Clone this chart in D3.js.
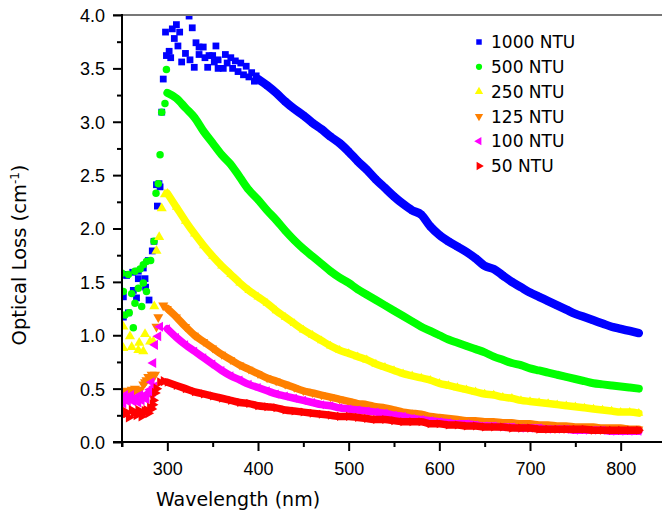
<!DOCTYPE html>
<html>
<head>
<meta charset="utf-8">
<script src="https://cdn.jsdelivr.net/npm/d3@7"></script>
<style>
  body { margin: 0; background: #fff; }
  svg { font-family: Tahoma, "DejaVu Sans", sans-serif; }
</style>
</head>
<body>
<div id="chart"></div>
<script>
const svgWidth = 662;
const svgHeight = 520;

// wavelength grid of the smooth part of the curves (nm)
const wl = [300,310,320,330,340,350,360,370,380,390,400,410,420,430,440,450,460,470,480,490,
            500,510,520,530,540,550,560,570,580,590,600,610,620,630,640,650,660,670,680,690,
            700,710,720,730,740,750,760,770,780,790,800,810,820];
const wlBlue = wl.filter(d => d >= 400);

const band1000 = [3.40,3.34,3.27,3.19,3.12,3.06,2.99,2.93,2.86,2.80,
                  2.72,2.63,2.55,2.46,2.38,2.30,2.23,2.17,2.13,2.02,
                  1.94,1.88,1.83,1.78,1.72,1.65,1.62,1.56,1.50,1.45,
                  1.40,1.36,1.32,1.28,1.24,1.20,1.17,1.14,1.11,1.08,
                  1.06,1.04,1.02];
const band500 = [3.27,3.22,3.13,3.04,2.91,2.80,2.69,2.60,2.48,2.36,
                 2.27,2.17,2.08,1.98,1.89,1.81,1.74,1.67,1.60,1.54,
                 1.49,1.43,1.38,1.33,1.28,1.23,1.18,1.13,1.08,1.04,
                 1.00,0.96,0.93,0.90,0.87,0.84,0.80,0.77,0.74,0.72,
                 0.69,0.67,0.65,0.63,0.61,0.59,0.57,0.55,0.54,0.53,
                 0.52,0.51,0.50];
const band250 = [2.33,2.20,2.07,1.95,1.84,1.74,1.65,1.57,1.49,1.42,
                 1.36,1.30,1.23,1.17,1.11,1.05,1.00,0.95,0.90,0.86,
                 0.83,0.80,0.77,0.73,0.70,0.67,0.64,0.62,0.60,0.58,
                 0.55,0.53,0.51,0.49,0.47,0.45,0.44,0.42,0.41,0.39,
                 0.38,0.37,0.36,0.35,0.34,0.33,0.32,0.31,0.30,0.29,
                 0.28,0.28,0.27];
const band125 = [1.25,1.17,1.08,1.00,0.94,0.88,0.82,0.77,0.72,0.68,
                 0.64,0.60,0.57,0.54,0.51,0.48,0.46,0.44,0.42,0.40,
                 0.38,0.36,0.35,0.33,0.32,0.30,0.28,0.27,0.26,0.24,
                 0.23,0.22,0.21,0.20,0.20,0.19,0.19,0.18,0.18,0.17,
                 0.17,0.16,0.16,0.15,0.15,0.14,0.14,0.14,0.13,0.13,
                 0.13,0.12,0.12];
const band100 = [1.06,0.98,0.91,0.85,0.79,0.73,0.67,0.62,0.58,0.54,
                 0.51,0.48,0.45,0.43,0.41,0.39,0.37,0.35,0.34,0.32,
                 0.31,0.30,0.29,0.28,0.27,0.25,0.24,0.22,0.21,0.20,
                 0.19,0.18,0.17,0.17,0.16,0.15,0.15,0.14,0.14,0.13,
                 0.13,0.13,0.12,0.12,0.12,0.11,0.11,0.11,0.11,0.10,
                 0.10,0.10,0.10];
const band50 = [0.56,0.53,0.50,0.47,0.45,0.43,0.41,0.39,0.37,0.36,
                0.34,0.33,0.32,0.30,0.29,0.28,0.27,0.26,0.25,0.24,
                0.24,0.23,0.22,0.21,0.21,0.20,0.19,0.19,0.19,0.17,
                0.17,0.16,0.16,0.15,0.15,0.14,0.14,0.14,0.13,0.13,
                0.13,0.12,0.12,0.12,0.12,0.12,0.12,0.11,0.11,0.11,
                0.11,0.11,0.11];

// scattered points below the absorption edge [nm, loss]
const noisy1000 = [[251.5,1.57],[255,1.56],[261.8,1.59],[268,1.60],[273.5,1.63],[279,1.70],[283.4,1.79],
  [285.3,1.88],[289,2.21],[290.8,2.42],[288,2.41],[292,2.39],[268,1.53],[275.4,1.53],[276,1.45],[266,1.35],
  [279.8,1.33],[251.5,1.36],[257,1.21],[251.5,1.17],[262.5,1.42],[293.8,3.09],[295.5,3.40],[298,3.84],
  [305.5,3.87],[310,3.91],[313.6,3.84],[307.7,3.78],[311.7,3.71],[324,3.99],[327.5,3.88],[331.6,3.74],
  [335,3.70],[339.6,3.70],[353.6,3.71],[302,3.66],[299,3.62],[303.7,3.60],[320,3.64],[315.8,3.56],
  [325,3.58],[329.7,3.51],[335,3.63],[341.5,3.60],[344.5,3.51],[346,3.62],[350,3.62],[351.8,3.56],
  [356,3.58],[356,3.50],[361.7,3.50],[364,3.63],[366,3.55],[370,3.60],[372,3.50],[375,3.57],[378,3.47],
  [381,3.55],[384,3.44],[387,3.52],[390,3.42],[393,3.46],[396,3.38],[398,3.43]];
const noisy500 = [[250,1.58],[257,1.57],[264.3,1.60],[270,1.62],[273.5,1.66],[277,1.69],[281.6,1.70],
  [285.3,1.88],[287.5,2.33],[290,2.42],[292,2.69],[293.8,3.09],[297.4,3.17],[299,3.49],[273.5,1.49],
  [268,1.44],[277,1.41],[260.7,1.39],[251.5,1.41],[264.3,1.30],[271.7,1.27],[258,1.21],[253.3,1.19],
  [262.5,1.07]];
const noisy250 = [[251.5,1.08],[258.8,0.99],[275.4,1.01],[281,0.94],[269,0.93],[260.7,0.89],[251.5,0.88],
  [268,0.86],[273.5,0.85],[284.5,0.94],[285.6,1.27],[288,1.79],[291,1.92],[293.8,2.19],[297.4,2.32]];
const noisy125 = [[251.5,0.47],[253.5,0.45],[255,0.48],[257,0.46],[260.7,0.49],[262.5,0.47],[264.3,0.50],
  [266.5,0.48],[268,0.46],[270,0.49],[273.5,0.54],[275.4,0.56],[277,0.58],[279,0.61],[281,0.60],
  [282.7,0.63],[284.5,0.61],[286.4,0.63],[288,1.08],[290,1.17],[295.5,1.28]];
const noisy100 = [[251.5,0.41],[251.5,0.36],[253.5,0.44],[256.5,0.38],[258.8,0.41],[260,0.44],[262.5,0.38],
  [264,0.41],[266,0.42],[268,0.37],[270,0.44],[271.7,0.39],[273.5,0.43],[275.4,0.41],[277,0.40],[279,0.46],
  [280.9,0.49],[282.7,0.44],[284,0.47],[285.5,0.52],[282.7,0.56],[284.5,0.74],[286.4,0.91],[290,0.99],[292,1.08]];
const noisy50 = [[250,0.25],[252.5,0.29],[255,0.27],[257.5,0.23],[260.7,0.30],[263,0.27],[266,0.25],
  [268,0.30],[269.8,0.28],[271.5,0.24],[273.5,0.27],[275,0.29],[277,0.30],[279,0.27],[280.9,0.32],
  [282.5,0.31],[283.8,0.35],[284.5,0.39],[286.4,0.46],[288,0.50],[292,0.56],[296,0.57]];

const names = ["1000 NTU", "500 NTU", "250 NTU", "125 NTU", "100 NTU", "50 NTU"];
const colors = ["#0000ff", "#00ff00", "#ffff00", "#ff8000", "#ff00ff", "#ff0000"];
const xTicks = [300, 400, 500, 600, 700, 800];
const yTicks = [0, 0.5, 1.0, 1.5, 2.0, 2.5, 3.0, 3.5, 4.0];

const shapes = [
  {type: d3.symbolSquare, size: 46, rot: 0},
  {type: d3.symbolCircle, size: 44, rot: 0},
  {type: d3.symbolTriangle, size: 44, rot: 0},
  {type: d3.symbolTriangle, size: 44, rot: 180},
  {type: d3.symbolTriangle, size: 44, rot: -90},
  {type: d3.symbolTriangle, size: 44, rot: 90}
];

const series = [
  {wl: wlBlue, band: band1000, noisy: noisy1000, width: 8.5},
  {wl: wl, band: band500, noisy: noisy500, width: 8},
  {wl: wl, band: band250, noisy: noisy250, width: 7.5},
  {wl: wl, band: band125, noisy: noisy125, width: 7.5},
  {wl: wl, band: band100, noisy: noisy100, width: 7.5},
  {wl: wl, band: band50, noisy: noisy50, width: 7.5}
];

const x = d3.scaleLinear().domain([250, 850]).range([122, 666]);
const y = d3.scaleLinear().domain([0, 4]).range([442, 15]);

const svg = d3.select("#chart").append("svg")
    .attr("width", svgWidth)
    .attr("height", svgHeight);

svg.append("defs").append("clipPath").attr("id", "plot")
  .append("rect").attr("x", 122).attr("y", 14).attr("width", 560).attr("height", 429);

const plot = svg.append("g").attr("clip-path", "url(#plot)");

const line = d3.line()
    .x(d => x(d[0]))
    .y(d => y(d[1]))
    .curve(d3.curveMonotoneX);

series.forEach((s, i) => {
  const pts = s.wl.map((w, j) => [w, s.band[j]]);
  const g = plot.append("g");
  const sym = d3.symbol().type(shapes[i].type).size(shapes[i].size);
  const small = d3.symbol().type(shapes[i].type).size(shapes[i].size * 0.8);

  g.append("path")
    .datum(pts)
    .attr("fill", "none")
    .attr("stroke", colors[i])
    .attr("stroke-width", s.width)
    .attr("stroke-linecap", "round")
    .attr("d", line);

  // markers riding on the band
  g.selectAll(".b")
    .data(pts)
    .enter()
    .append("path")
    .attr("d", small)
    .attr("fill", colors[i])
    .attr("transform", d => `translate(${x(d[0])},${y(d[1])}) rotate(${shapes[i].rot})`);

  g.selectAll(".m")
    .data(s.noisy)
    .enter()
    .append("path")
    .attr("d", sym)
    .attr("fill", colors[i])
    .attr("transform", d => `translate(${x(d[0])},${y(d[1])}) rotate(${shapes[i].rot})`);
});

// frame: grey top border, black left and bottom axes
svg.append("line")
  .attr("x1", 113).attr("x2", 662).attr("y1", 15).attr("y2", 15)
  .attr("stroke", "#777").attr("stroke-width", 2);

const axisX = svg.append("g")
  .attr("transform", `translate(0, 442)`)
  .call(d3.axisBottom(x).tickValues(d3.range(250, 851, 50)).tickSize(5).tickFormat(""));
axisX.selectAll(".tick line").filter(d => xTicks.includes(d)).attr("y2", 9);
axisX.selectAll(".tick line").attr("stroke-width", 2);
axisX.select(".domain").remove();
svg.append("line")
  .attr("x1", 113).attr("x2", 662).attr("y1", 442).attr("y2", 442)
  .attr("stroke", "#000").attr("stroke-width", 2);

axisX.selectAll(".tick").filter(d => xTicks.includes(d))
  .append("text")
  .attr("y", 33)
  .attr("fill", "#000")
  .attr("font-size", 18)
  .attr("text-anchor", "middle")
  .text(d => d);

const axisY = svg.append("g")
  .attr("transform", `translate(122, 0)`)
  .call(d3.axisLeft(y).tickValues(d3.range(0, 4.01, 0.25)).tickSize(5).tickFormat(""));
axisY.selectAll(".tick line").filter(d => yTicks.some(t => Math.abs(t - d) < 1e-6)).attr("x2", -9);
axisY.selectAll(".tick line").attr("stroke-width", 2);
axisY.select(".domain").remove();
svg.append("line")
  .attr("x1", 122).attr("x2", 122).attr("y1", 14).attr("y2", 447)
  .attr("stroke", "#000").attr("stroke-width", 2);

axisY.selectAll(".tick").filter(d => yTicks.some(t => Math.abs(t - d) < 1e-6))
  .append("text")
  .attr("x", -17)
  .attr("dy", "0.36em")
  .attr("fill", "#000")
  .attr("font-size", 18)
  .attr("text-anchor", "end")
  .text(d => d3.format(".1f")(d));

// axis titles
svg.append("text")
  .attr("x", 238).attr("y", 506)
  .attr("text-anchor", "middle")
  .attr("font-size", 19)
  .text("Wavelength (nm)");

const yTitle = svg.append("text")
  .attr("transform", "translate(26, 255) rotate(-90)")
  .attr("text-anchor", "middle")
  .attr("font-size", 19.5);
yTitle.append("tspan").text("Optical Loss (cm");
yTitle.append("tspan").attr("dy", -7).attr("font-size", 12).text("-1");
yTitle.append("tspan").attr("dy", 7).text(")");

// legend
const legend = svg.append("g");
names.forEach((n, i) => {
  const ly = 42 + i * 24.8;
  const sym = d3.symbol().type(shapes[i].type).size(30);
  legend.append("path")
    .attr("d", sym)
    .attr("fill", colors[i])
    .attr("transform", `translate(479,${ly}) rotate(${shapes[i].rot})`);
  legend.append("text")
    .attr("x", 491).attr("y", ly)
    .attr("dy", "0.36em")
    .attr("font-size", 17)
    .text(n);
});
</script>
</body>
</html>
